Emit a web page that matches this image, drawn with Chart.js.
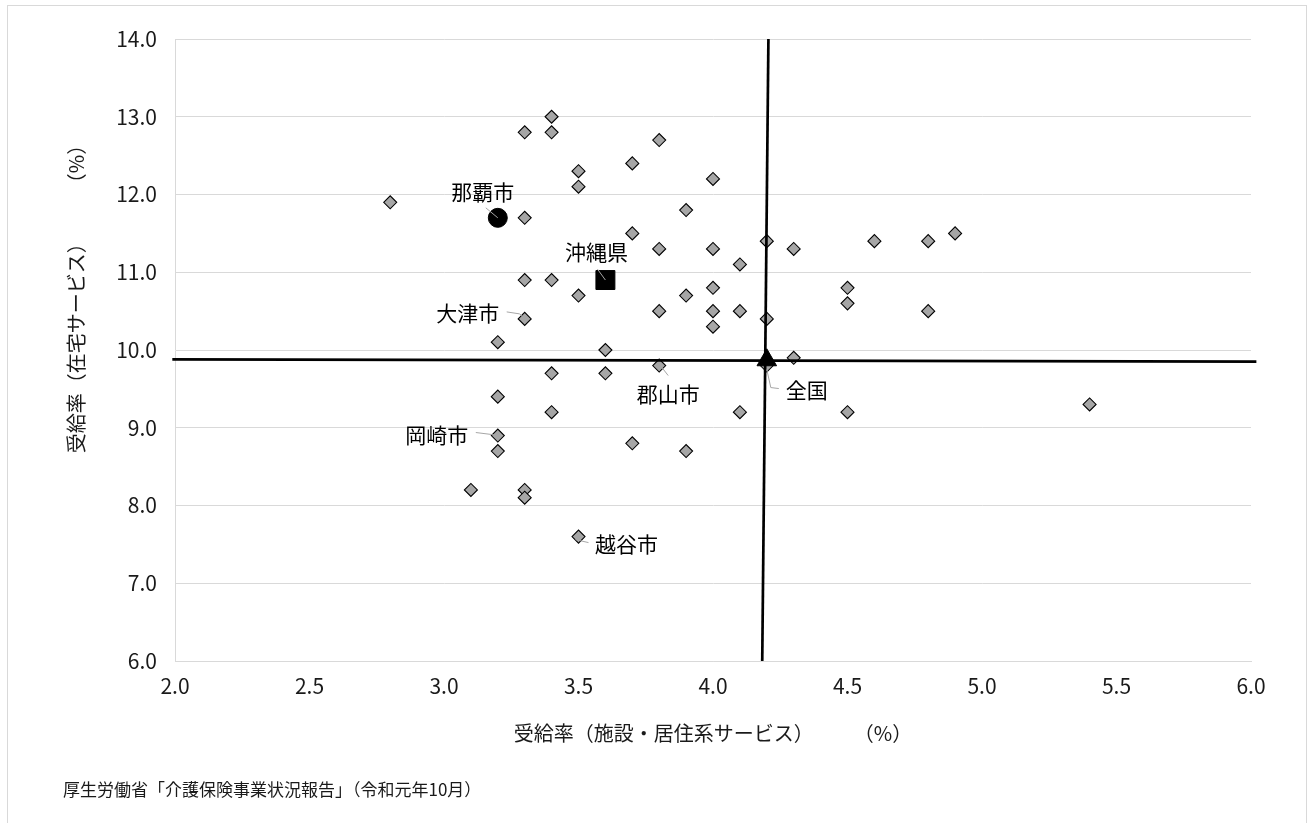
<!DOCTYPE html>
<html lang="ja">
<head>
<meta charset="utf-8">
<title>受給率（施設・居住系サービス／在宅サービス）</title>
<script src="https://cdn.jsdelivr.net/npm/chart.js@4.4.1/dist/chart.umd.min.js"></script>
<style>
  html, body { margin: 0; padding: 0; background: #fff; overflow: hidden; }
  #frame { position: absolute; left: 7px; top: 5px; width: 1298px; height: 900px; border: 1px solid #d9d9d9; }
  #wrap { position: absolute; left: 0; top: 0; width: 1308px; height: 823px; }
  #source { position: absolute; left: 63px; top: 776px; font: 17px "Noto Sans CJK JP"; color: #1a1a1a; white-space: nowrap; }
</style>
</head>
<body>
<div id="frame"></div>
<div id="wrap"><canvas id="chart"></canvas></div>
<div id="source">厚生労働省「介護保険事業状況報告」（令和元年10月）</div>
<script>
// 各市（灰色のひし形）
const cityX = [2.8, 3.3, 3.4, 3.4, 3.5, 3.5, 3.3, 3.7, 3.8, 4.0,
	3.9, 3.7, 3.8, 4.0, 4.1, 4.2, 4.3, 4.6, 4.8, 4.9,
	3.3, 3.4, 3.5, 3.3, 3.8, 3.9, 4.0, 4.0, 4.0, 4.1,
	4.2, 4.5, 4.5, 4.8, 3.2, 3.6, 3.4, 3.6, 3.8, 4.2,
	4.3, 3.2, 3.4, 4.1, 4.5, 5.4, 3.2, 3.2, 3.7, 3.9,
	3.1, 3.3, 3.3, 3.5];
const cityY = [11.9, 12.8, 13.0, 12.8, 12.3, 12.1, 11.7, 12.4, 12.7, 12.2,
	11.8, 11.5, 11.3, 11.3, 11.1, 11.4, 11.3, 11.4, 11.4, 11.5,
	10.9, 10.9, 10.7, 10.4, 10.5, 10.7, 10.8, 10.5, 10.3, 10.5,
	10.4, 10.8, 10.6, 10.5, 10.1, 10.0, 9.7, 9.7, 9.8, 9.8,
	9.9, 9.4, 9.2, 9.2, 9.2, 9.3, 8.9, 8.7, 8.8, 8.7,
	8.2, 8.2, 8.1, 7.6];

// 那覇市・沖縄県・全国
const nahaX = [3.2];
const nahaY = [11.7];
const okinawaX = [3.6];
const okinawaY = [10.9];
const zenkokuX = [4.2];
const zenkokuY = [9.87];

// 全国値の十字線
const hLineX = [1.99, 6.02];
const hLineY = [9.88, 9.85];
const vLineX = [4.206, 4.183];
const vLineY = [14.0, 6.0];

// データラベル
const labelNames = ['那覇市', '沖縄県', '大津市', '郡山市', '全国', '岡崎市', '越谷市'];
const labelX = [3.2, 3.6, 3.3, 3.8, 4.2, 3.2, 3.5];
const labelY = [11.7, 10.9, 10.4, 9.8, 9.8, 8.9, 7.6];

const xTicks = [2.0, 2.5, 3.0, 3.5, 4.0, 4.5, 5.0, 5.5, 6.0];
const yTicks = [6.0, 7.0, 8.0, 9.0, 10.0, 11.0, 12.0, 13.0, 14.0];

const FONT = '"Noto Sans CJK JP", "Noto Sans", sans-serif';
const TEXT_COLOR = '#1a1a1a';

const toPoints = (xs, ys) => xs.map((x, i) => ({ x: x, y: ys[i] }));

// ラベルの位置（点からのずれ, px）と引き出し線
const labelLayout = [
	{ dx: -15, dy: -26, leader: [[-12, -10], [0, 0]] },
	{ dx: -9, dy: -28, leader: [[-8, -11], [0, 0]] },
	{ dx: -57, dy: -6, leader: [[-18, -7], [-5, -5], [0, 0]] },
	{ dx: 9, dy: 28, leader: [[2, 1], [9, 10]] },
	{ dx: 40, dy: 24, leader: [[0, 4], [4, 22], [12, 23]] },
	{ dx: -61, dy: -1, leader: [[-22, -3], [-6, -1], [0, 0]] },
	{ dx: 48, dy: 7, leader: [[-3, 3], [10, 6]] }
];

const labelPlugin = {
	id: 'pointLabels',
	afterDatasetsDraw(chart) {
		const ctx = chart.ctx;
		const xs = chart.scales.x;
		const ys = chart.scales.y;
		ctx.save();
		labelNames.forEach((name, i) => {
			const px = xs.getPixelForValue(labelX[i]);
			const py = ys.getPixelForValue(labelY[i]);
			const lay = labelLayout[i];
			// 引き出し線
			ctx.strokeStyle = '#a6a6a6';
			ctx.lineWidth = 1;
			ctx.beginPath();
			lay.leader.forEach((p, j) => {
				if (j === 0) ctx.moveTo(px + p[0], py + p[1]);
				else ctx.lineTo(px + p[0], py + p[1]);
			});
			ctx.stroke();
			ctx.fillStyle = '#000';
			ctx.font = '21px ' + FONT;
			ctx.textAlign = 'center';
			ctx.textBaseline = 'middle';
			ctx.fillText(name, px + lay.dx, py + lay.dy);
		});
		// 縦軸タイトル
		ctx.translate(76, 294);
		ctx.rotate(-Math.PI / 2);
		ctx.fillStyle = TEXT_COLOR;
		ctx.font = '20px ' + FONT;
		ctx.textAlign = 'center';
		ctx.textBaseline = 'middle';
		ctx.fillText('受給率（在宅サービス）　　　（%）', 0, 0);
		ctx.restore();
	}
};

new Chart(document.getElementById('chart'), {
	type: 'scatter',
	data: {
		datasets: [
			{
				label: '全国',
				data: toPoints(zenkokuX, zenkokuY),
				pointStyle: 'triangle',
				pointRadius: 11.3,
				backgroundColor: '#000',
				borderColor: '#000',
				borderWidth: 1,
				order: 1
			},
			{
				label: '那覇市',
				data: toPoints(nahaX, nahaY),
				pointStyle: 'circle',
				pointRadius: 9.5,
				backgroundColor: '#000',
				borderColor: '#000',
				borderWidth: 1,
				order: 1
			},
			{
				label: '沖縄県',
				data: toPoints(okinawaX, okinawaY),
				pointStyle: 'rect',
				pointRadius: 13.4,
				backgroundColor: '#000',
				borderColor: '#000',
				borderWidth: 1,
				order: 1
			},
			{
				label: '横線',
				data: toPoints(hLineX, hLineY),
				showLine: true,
				pointRadius: 0,
				borderColor: '#000',
				borderWidth: 2.7,
				clip: false,
				order: 3
			},
			{
				label: '縦線',
				data: toPoints(vLineX, vLineY),
				showLine: true,
				pointRadius: 0,
				borderColor: '#000',
				borderWidth: 2.7,
				clip: false,
				order: 3
			},
			{
				label: '市',
				data: toPoints(cityX, cityY),
				pointStyle: 'rectRot',
				pointRadius: 6.5,
				backgroundColor: '#a6a6a6',
				borderColor: '#000',
				borderWidth: 1.1,
				order: 5
			}
		]
	},
	options: {
		responsive: true,
		maintainAspectRatio: false,
		animation: false,
		layout: {
			padding: { left: 0, top: 39, right: 57, bottom: 78 }
		},
		plugins: {
			legend: { display: false },
			tooltip: { enabled: false }
		},
		scales: {
			x: {
				type: 'linear',
				min: 2,
				max: 6,
				afterBuildTicks(scale) {
					scale.ticks = xTicks.map(v => ({ value: v }));
				},
				afterFit(scale) {
					scale.height = 84;
				},
				ticks: {
					padding: 4,
					color: TEXT_COLOR,
					font: { family: FONT, size: 21 },
					callback: v => Number(v).toFixed(1)
				},
				grid: { display: false },
				border: { display: true, color: '#d9d9d9', width: 1 },
				title: {
					display: true,
					text: '受給率（施設・居住系サービス）　　　（%）',
					color: TEXT_COLOR,
					font: { family: FONT, size: 20 },
					padding: 0
				}
			},
			y: {
				type: 'linear',
				min: 6,
				max: 14,
				afterBuildTicks(scale) {
					scale.ticks = yTicks.map(v => ({ value: v }));
				},
				afterFit(scale) {
					scale.width = 175;
				},
				ticks: {
					padding: 18,
					color: TEXT_COLOR,
					font: { family: FONT, size: 21 },
					callback: v => Number(v).toFixed(1)
				},
				grid: { display: true, color: '#d9d9d9', lineWidth: 1, drawTicks: false },
				border: { display: true, color: '#d9d9d9', width: 1 }
			}
		}
	},
	plugins: [labelPlugin]
});
</script>
</body>
</html>
